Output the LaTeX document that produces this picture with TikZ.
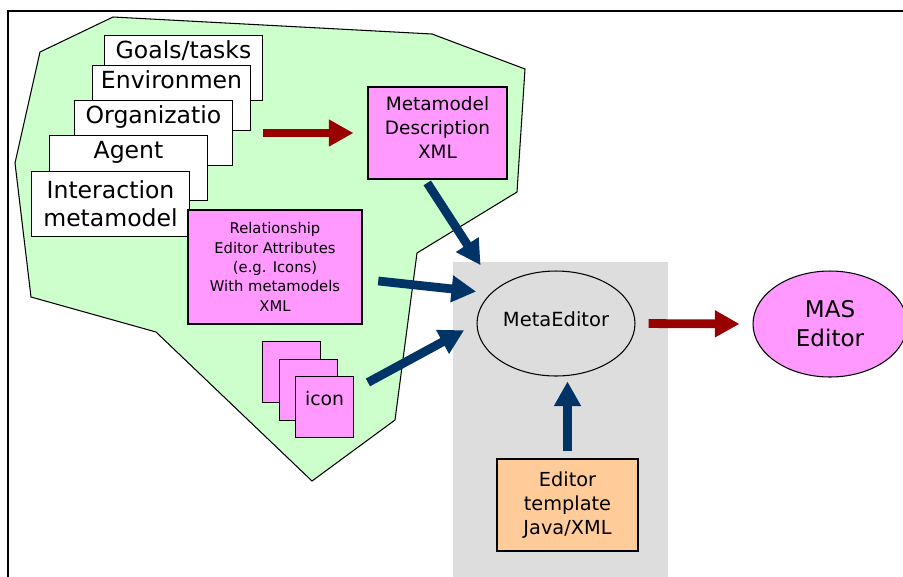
\documentclass[tikz,border=0pt]{standalone}
\usepackage{fontspec}
\setmainfont{DejaVu Sans}
\usetikzlibrary{arrows.meta,shapes.geometric}
\definecolor{padColor}{HTML}{CCFFCC}
\definecolor{pinkColor}{HTML}{FF99FF}
\definecolor{toolColor}{HTML}{DDDDDD}
\definecolor{tmplColor}{HTML}{FFCC99}
\definecolor{redFlow}{HTML}{990000}
\definecolor{blueFlow}{HTML}{003366}

\tikzset{
  stackbox/.style={draw, fill=white, line width=0.6pt, anchor=north west, inner sep=0pt,
    minimum width=3.16cm, minimum height=1.3cm, align=center, font=\fontsize{13.4}{16}\selectfont},
  iconbox/.style={draw, fill=pinkColor, line width=0.6pt, anchor=north west, inner sep=0pt,
    minimum width=1.16cm, minimum height=1.22cm, font=\fontsize{10.7}{13}\selectfont},
  redflow/.style={redFlow, line width=5pt, -{Triangle[length=14pt,width=14.5pt]}},
  blueflow/.style={blueFlow, line width=5pt, -{Triangle[length=14pt,width=14.5pt]}}
}

\begin{document}
\begin{tikzpicture}[x=0.02cm, y=-0.02cm]
  \useasboundingbox (0,0) rectangle (903,576);
  \clip (0,0) rectangle (903,576);
  % frame and background areas
  \draw[line width=1.1pt] (8,600) -- (8,11) -- (920,11);
  \draw[fill=padColor, line width=0.6pt] (113,17) -- (432,34) -- (525,69) -- (517,192) -- (417,253) -- (395,420)
    -- (312,481) -- (156,332) -- (31,297) -- (15,163) -- (40,52) -- cycle;
  \fill[toolColor] (453,262) rectangle (668,600);

  % metamodel stack
  \node[stackbox] (goals) at (104,35) {Goals/tasks\\\strut};
  \node[stackbox] (envi) at (92,65) {Environmen\\\strut};
  \node[stackbox] (orga) at (74,100) {Organizatio\\\strut};
  \node[stackbox] (agent) at (49,135) {Agent\\\strut};
  \node[stackbox] (inter) at (31,171) {Interaction\\metamodel};

  \node[draw, fill=pinkColor, line width=0.6pt, inner sep=0pt, minimum width=2.78cm, minimum height=1.84cm,
    align=center, text depth=6pt, font=\fontsize{10.5}{13.8}\selectfont] (metadesc) at (437.5,133) {Metamodel\\Description\\XML};
  \node[draw, fill=pinkColor, line width=0.6pt, inner sep=0pt, minimum width=3.48cm, minimum height=2.28cm,
    align=center, font=\fontsize{8.4}{11}\selectfont] (relbox) at (275,267)
    {Relationship\\Editor Attributes\\(e.g. Icons)\\With metamodels\\XML};

  % icons
  \node[iconbox] (icon1) at (262,341) {};
  \node[iconbox] (icon2) at (279,359) {};
  \node[iconbox, text depth=10pt] (icon3) at (295,376) {icon};

  % editors
  \node[draw, ellipse, fill=toolColor, line width=0.6pt, inner sep=0pt, minimum width=3.16cm, minimum height=2.1cm,
    text depth=5.5pt, font=\fontsize{11.1}{13}\selectfont] (metaeditor) at (556,323.5) {MetaEditor};
  \node[draw, ellipse, fill=pinkColor, line width=0.6pt, inner sep=0pt, minimum width=3.08cm, minimum height=2.12cm,
    align=center, font=\fontsize{13.1}{16.5}\selectfont] (masedit) at (830,324) {MAS\\Editor};
  \node[draw, fill=tmplColor, line width=0.6pt, inner sep=0pt, minimum width=2.82cm, minimum height=1.84cm,
    align=center, font=\fontsize{11}{13.8}\selectfont] (template) at (567.5,505) {Editor\\template\\Java/XML};

  % flows
  \draw[redflow, shorten >=8pt] (goals.east |- metadesc.west) -- (metadesc.west);
  \draw[redflow, shorten <=7.4pt, shorten >=7.4pt] (metaeditor.east) -- (masedit.west);
  \draw[blueflow, shorten <=2.3pt, shorten >=16pt] (metadesc.255) -- (metaeditor.150);
  \draw[blueflow, shorten <=9pt, shorten >=8.4pt] (relbox.-8.5) -- (metaeditor.155);
  \draw[blueflow, shorten <=9pt, shorten >=8pt] (icon3.30) -- (metaeditor.west);
  \draw[blueflow, shorten <=4.5pt, shorten >=2.8pt] (template.north) -- (template.north |- metaeditor.south);
\end{tikzpicture}
\end{document}
